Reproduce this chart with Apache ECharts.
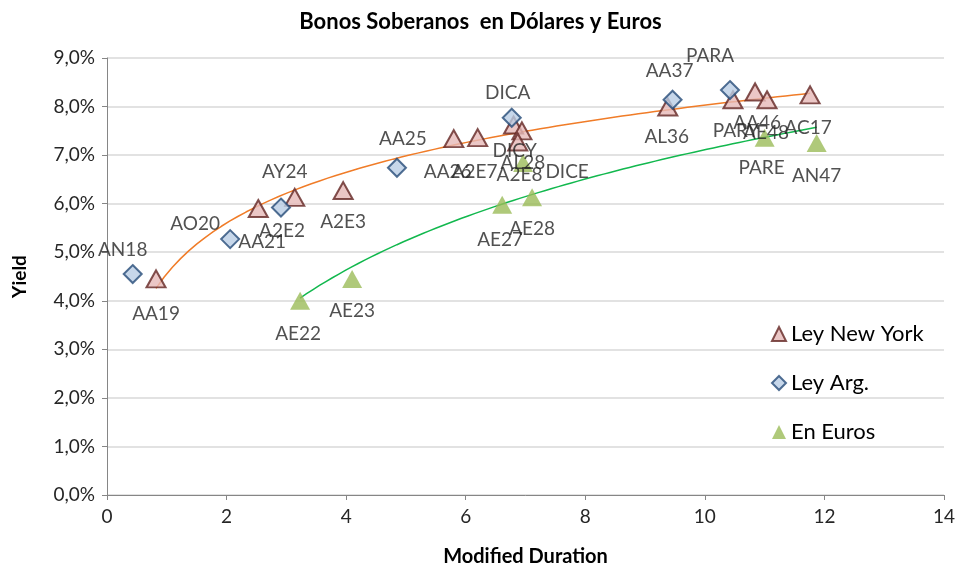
<!DOCTYPE html>
<html lang="es">

<head>
  <meta charset="UTF-8">
  <title>Bonos Soberanos</title>
  <script src="https://cdn.jsdelivr.net/npm/echarts@6/dist/echarts.min.js"></script>
</head>

<body style="margin:0">
  <div id="main" style="width: 961px;height:572px;"></div>
  <script>
    // datos: [duration modificada, yield %, nombre]
    var leyNY = [
      [0.82, 4.45, 'AA19'], [2.53, 5.90, 'AA21'], [3.14, 6.13, 'AY24'], [3.95, 6.27, 'A2E3'],
      [5.80, 7.34, 'AA26'], [6.20, 7.36, 'A2E7'], [6.80, 7.62, 'A2E8'], [6.94, 7.50, 'AL28'],
      [6.87, 7.27, 'DICY'], [9.38, 7.99, 'AL36'], [10.47, 8.14, 'PARY'], [10.84, 8.30, 'AA46'],
      [11.04, 8.14, 'AE48'], [11.76, 8.24, 'AC17']
    ];
    var leyArg = [
      [0.43, 4.55, 'AN18'], [2.06, 5.27, 'AO20'], [2.91, 5.92, 'A2E2'], [4.85, 6.74, 'AA25'],
      [6.77, 7.77, 'DICA'], [9.46, 8.14, 'AA37'], [10.42, 8.34, 'PARA']
    ];
    var euros = [
      [3.23, 4.00, 'AE22'], [4.10, 4.45, 'AE23'], [6.61, 5.98, 'AE27'], [7.11, 6.13, 'AE28'],
      [6.96, 6.84, 'DICE'], [11.00, 7.36, 'PARE'], [11.87, 7.25, 'AN47']
    ];
    var xTicks = [0, 2, 4, 6, 8, 10, 12, 14];
    var yTicks = [0, 1, 2, 3, 4, 5, 6, 7, 8, 9];

    // donde va cada etiqueta respecto del punto (px)
    var labelOffset = {
      AA19: [0, 35], AA21: [4, 33], AY24: [-10, -25], A2E3: [0, 31], AA26: [-6, 33], A2E7: [-3, 34],
      A2E8: [6, 50], AL28: [1, 32], DICY: [-3, 9], AL36: [-1, 30], PARY: [3, 31], AA46: [2, 31],
      AE48: [-1, 33], AC17: [-2, 33],
      AN18: [-10, -24], AO20: [-35, -15], A2E2: [1, 23], AA25: [6, -29], DICA: [-4, -25],
      AA37: [-3, -29], PARA: [-20, -34],
      AE22: [-2, 33], AE23: [0, 32], AE27: [-2, 35], AE28: [0, 32], DICE: [44, 9], PARE: [-3, 30],
      AN47: [0, 33]
    };

    var font = 'Lato, "Open Sans", sans-serif';

    // linea de tendencia logaritmica (como la de excel)
    function logTrend(data) {
      var n = data.length, sx = 0, sy = 0, sxx = 0, sxy = 0;
      data.forEach(function (d) {
        var l = Math.log(d[0]);
        sx += l; sy += d[1]; sxx += l * l; sxy += l * d[1];
      });
      var b = (n * sxy - sx * sy) / (n * sxx - sx * sx);
      var a = (sy - b * sx) / n;
      var xs = data.map(function (d) { return d[0]; });
      var x0 = Math.min.apply(null, xs), x1 = Math.max.apply(null, xs);
      var pts = [];
      for (var i = 0; i <= 80; i++) {
        var x = x0 + (x1 - x0) * i / 80;
        pts.push([x, a + b * Math.log(x)]);
      }
      return pts;
    }

    function pointLabel() {
      return {
        show: true,
        position: 'inside',
        formatter: function (p) { return p.value[2]; },
        fontFamily: font,
        fontSize: 19,
        color: '#262626'
      };
    }

    function withOffsets(data) {
      return data.map(function (d) {
        return { value: d, label: { offset: labelOffset[d[2]] || [0, 30] } };
      });
    }

    var myChart = echarts.init(document.getElementById('main'));

    var option = {
      animation: false,
      title: {
        text: 'Bonos Soberanos  en Dólares y Euros',
        left: 'center',
        top: 6,
        textStyle: { fontFamily: font, fontSize: 22, fontWeight: 'bold', color: '#000' }
      },
      legend: {
        data: ['Ley New York', 'Ley Arg.', 'En Euros'],
        orient: 'vertical',
        left: 766,
        top: 318,
        itemGap: 27,
        itemWidth: 14,
        itemHeight: 14,
        textStyle: { fontFamily: font, fontSize: 22, color: '#000' }
      },
      grid: { left: 107, right: 17, top: 58, bottom: 75 },
      xAxis: {
        type: 'value',
        min: xTicks[0],
        max: xTicks[xTicks.length - 1],
        interval: 2,
        name: 'Modified Duration',
        nameLocation: 'middle',
        nameGap: 52,
        nameTextStyle: { fontFamily: font, fontSize: 20, fontWeight: 'bold', color: '#000' },
        axisLine: { lineStyle: { color: '#868686' } },
        axisTick: { show: true, length: 5, lineStyle: { color: '#868686' } },
        axisLabel: { fontFamily: font, fontSize: 19, color: '#262626', margin: 12 },
        splitLine: { show: false }
      },
      yAxis: {
        type: 'value',
        min: yTicks[0],
        max: yTicks[yTicks.length - 1],
        interval: 1,
        name: 'Yield',
        nameLocation: 'middle',
        nameGap: 78,
        nameTextStyle: { fontFamily: font, fontSize: 19, fontWeight: 'bold', color: '#000' },
        axisLine: { show: true, lineStyle: { color: '#868686' } },
        axisTick: { show: true, length: 5, lineStyle: { color: '#868686' } },
        axisLabel: {
          fontFamily: font, fontSize: 19, color: '#262626', margin: 12,
          formatter: function (v) { return v.toFixed(1).replace('.', ',') + '%'; }
        },
        splitLine: { lineStyle: { color: '#d9d9d9', width: 1.5 } }
      },
      series: [
        {
          name: 'tendencia NY', type: 'line', data: logTrend(leyNY), showSymbol: false, silent: true,
          lineStyle: { color: '#f07c28', width: 1.5 }, z: 1
        },
        {
          name: 'tendencia EUR', type: 'line', data: logTrend(euros), showSymbol: false, silent: true,
          lineStyle: { color: '#12b84e', width: 1.5 }, z: 1
        },
        {
          name: 'Ley New York', type: 'scatter', symbol: 'triangle', symbolSize: [19, 17],
          data: withOffsets(leyNY),
          itemStyle: { color: '#e6b9b8', borderColor: '#632523', borderWidth: 2 },
          label: pointLabel(), z: 3
        },
        {
          name: 'Ley Arg.', type: 'scatter', symbol: 'diamond', symbolSize: [18, 18],
          data: withOffsets(leyArg),
          itemStyle: { color: '#b9cde5', borderColor: '#254b78', borderWidth: 2 },
          label: pointLabel(), z: 4
        },
        {
          name: 'En Euros', type: 'scatter', symbol: 'triangle', symbolSize: [20, 18],
          data: withOffsets(euros),
          itemStyle: { color: '#9bbb59' },
          label: pointLabel(), z: 3
        }
      ]
    };

    myChart.setOption(option);
  </script>
</body>

</html>
